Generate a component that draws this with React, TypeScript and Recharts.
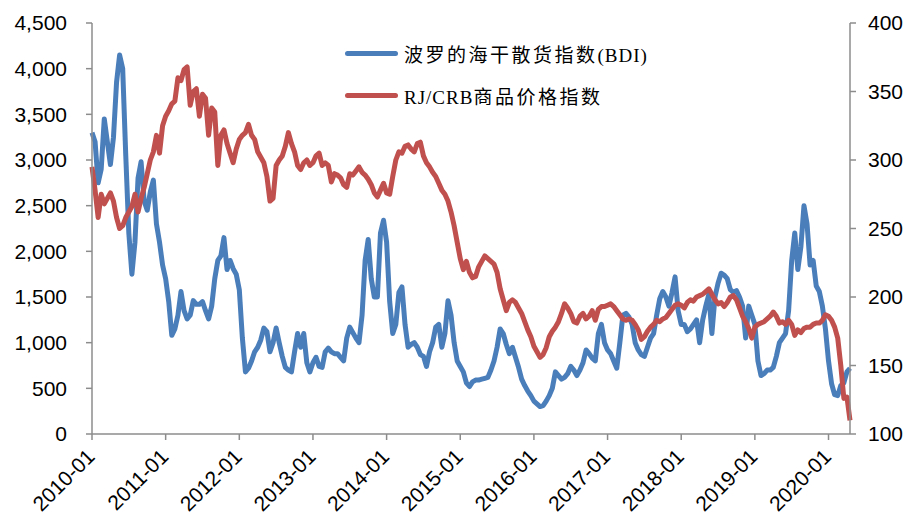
import React from 'react';
import { LineChart, Line, XAxis, YAxis, Legend } from 'recharts';

// semi-monthly sample points, Jan 2010 .. Apr 2020
const years = [2010, 2011, 2012, 2013, 2014, 2015, 2016, 2017, 2018, 2019, 2020];
const months = ['01', '02', '03', '04', '05', '06', '07', '08', '09', '10', '11', '12'];
const halfDays = ['01', '16'];
const lastMonth = '2020-04';

const dates: string[] = [];
for (const y of years) {
  for (const m of months) {
    const ym = `${y}-${m}`;
    if (ym > lastMonth) break;
    for (const d of halfDays) dates.push(`${ym}-${d}`);
  }
}

const bdi = [
  3300, 3200, 2750, 2900, 3450, 3200, 2950, 3250, 3850, 4150, 4000, 3050,
  2200, 1750, 2100, 2800, 2980, 2550, 2450, 2650, 2780, 2300, 2100, 1850,
  1700, 1450, 1080, 1150, 1300, 1560, 1350, 1260, 1300, 1460, 1420, 1420,
  1450, 1350, 1260, 1400, 1700, 1900, 1950, 2150, 1800, 1900, 1810, 1750,
  1580, 1050, 680, 720, 800, 900, 950, 1030, 1160, 1120, 900, 1000,
  1160, 1000, 850, 730, 700, 680, 900, 1100, 950, 1100, 780, 680,
  780, 840, 740, 730, 900, 940, 900, 880, 880, 840, 800, 1050,
  1170, 1110, 1050, 1000, 1300, 1900, 2130, 1700, 1500, 1500, 2200, 2340,
  2100, 1450, 1100, 1200, 1550, 1610, 1200, 950, 980, 1000, 950, 870,
  850, 740, 900, 1000, 1170, 1200, 950, 1100, 1460, 1300, 1000, 800,
  740, 680, 560, 520, 570, 590, 590, 600, 610, 620, 700, 800,
  950, 1150, 1100, 980, 880, 950, 840, 730, 600, 530, 470, 420,
  360, 330, 300, 310, 360, 420, 500, 680, 640, 600, 620, 660,
  740, 700, 640, 700, 780, 920, 880, 830, 800, 1100, 1200, 1000,
  920, 880, 800, 720, 1000, 1300, 1320, 1280, 1200, 1000, 920, 870,
  850, 950, 1050, 1100, 1300, 1480, 1560, 1500, 1400, 1550, 1720, 1350,
  1200, 1200, 1120, 1150, 1200, 1250, 1000, 1250, 1400, 1530, 1100, 1500,
  1650, 1760, 1740, 1700, 1580, 1550, 1570, 1500, 1400, 1050, 1400, 1300,
  1200, 800, 640, 660, 700, 700, 730, 850, 1000, 1050, 1100, 1350,
  1900, 2200, 1800, 2050, 2500, 2300, 1850, 1900, 1620, 1560, 1400, 1150,
  800, 550, 430, 420, 530, 560, 680, 720,
];

const crb = [
  295, 278, 258, 275, 268, 272, 276, 270, 258, 250, 252, 258,
  262, 266, 275, 262, 272, 280, 290, 300, 306, 318, 305, 325,
  332, 336, 341, 343, 360, 358, 366, 368, 340, 350, 352, 332,
  348, 345, 318, 338, 335, 296, 318, 322, 312, 305, 298, 308,
  315, 318, 320, 326, 318, 315, 306, 302, 298, 288, 270, 272,
  296, 300, 303, 310, 320, 312, 306, 296, 293, 298, 300, 296,
  298, 303, 305, 296, 298, 296, 284, 290, 289, 287, 282, 280,
  290, 289, 292, 295, 291, 289, 286, 282, 276, 273, 278, 283,
  276, 275, 288, 300, 306, 305, 310, 311, 308, 306, 312, 313,
  303, 298, 295, 291, 288, 283, 278, 275, 270, 262, 252, 240,
  228, 220, 226, 218, 214, 215, 222, 226, 230, 228, 226, 224,
  218, 206, 198, 190, 196, 198, 196, 192, 188, 182, 176, 171,
  164, 160, 156, 158, 163, 171, 175, 178, 182, 188, 195, 192,
  188, 182, 181, 186, 188, 184, 186, 190, 183, 191, 193, 193,
  194, 195, 193, 190, 187, 184, 183, 184, 183, 180, 176, 169,
  171, 175, 178, 180, 183, 182, 184, 185, 188, 191, 194, 195,
  194, 192, 196, 198, 197, 200, 201, 202, 204, 206, 202, 198,
  195, 196, 193, 196, 200, 201, 198, 192, 186, 182, 177, 170,
  178, 180, 181, 182, 184, 186, 189, 186, 181, 182, 180, 183,
  180, 172, 176, 174, 177, 178, 178, 180, 181, 181, 183, 187,
  186, 183, 178, 170, 150, 126, 127, 110,
];

const xTickLabels = ['2010-01', '2011-01', '2012-01', '2013-01', '2014-01', '2015-01', '2016-01', '2017-01', '2018-01', '2019-01', '2020-01'];
const leftTicks = [0, 500, 1000, 1500, 2000, 2500, 3000, 3500, 4000, 4500];
const rightTicks = [100, 150, 200, 250, 300, 350, 400];

const legendItems = [
  { color: '#4a7ebb', parts: [{ t: '波罗的海干散货指数', cjk: true }, { t: '(BDI)', cjk: false }] },
  { color: '#c0504d', parts: [{ t: 'RJ/CRB', cjk: false }, { t: '商品价格指数', cjk: true }] },
];

const data = dates.map((d, i) => ({ date: d, bdi: bdi[i], crb: crb[i] }));

const AXIS = '#8c8c8c';
const SANS = "'Liberation Sans', Arial, sans-serif";

const XTick = (props: any) => {
  const { x, y, payload } = props;
  const tx = x + 4;
  const ty = y + 18;
  return (
    <text x={tx} y={ty} transform={`rotate(-45 ${tx} ${ty})`} textAnchor="end" fontSize={21} fontFamily={SANS} fill="#000">
      {String(payload.value).slice(0, 7)}
    </text>
  );
};

const renderLegend = () => (
  <div style={{ fontFamily: "'Liberation Serif', 'Noto Sans CJK SC', serif", color: '#000' }}>
    {legendItems.map((item, i) => (
      <div key={i} style={{ display: 'flex', alignItems: 'center', height: 42 }}>
        <div style={{ width: 53, height: 5, borderRadius: 3, background: item.color }} />
        <div style={{ marginLeft: 6, whiteSpace: 'nowrap' }}>
          {item.parts.map((p, j) => (
            <span
              key={j}
              style={
                p.cjk
                  ? { fontFamily: "'Noto Sans CJK SC', sans-serif", fontSize: 19, letterSpacing: 2.5 }
                  : { fontSize: 19, letterSpacing: 1 }
              }
            >
              {p.t}
            </span>
          ))}
        </div>
      </div>
    ))}
  </div>
);

export default function App() {
  return (
    <div style={{ position: 'absolute', left: 0, top: 0, width: 918, height: 516, background: '#fff' }}>
      <LineChart width={918} height={516} data={data} margin={{ top: 23, right: 0, bottom: 0, left: 0 }}>
        <XAxis
          dataKey="date"
          ticks={xTickLabels.map((t) => `${t}-01`)}
          interval={0}
          height={82}
          tickSize={6}
          tickMargin={0}
          tick={<XTick />}
          axisLine={{ stroke: AXIS, strokeWidth: 1.5 }}
          tickLine={{ stroke: AXIS, strokeWidth: 1.5 }}
        />
        <YAxis
          yAxisId="left"
          orientation="left"
          width={92}
          domain={[0, 4500]}
          ticks={leftTicks}
          interval={0}
          tickSize={6}
          tickMargin={19}
          tickFormatter={(v: number) => v.toLocaleString('en-US')}
          tick={{ fontSize: 21, fill: '#000', fontFamily: SANS }}
          axisLine={{ stroke: AXIS, strokeWidth: 1.5 }}
          tickLine={{ stroke: AXIS, strokeWidth: 1.5 }}
        />
        <YAxis
          yAxisId="right"
          orientation="right"
          width={68}
          domain={[100, 400]}
          ticks={rightTicks}
          interval={0}
          tickSize={6}
          tickMargin={12}
          tick={{ fontSize: 21, fill: '#000', fontFamily: SANS }}
          axisLine={{ stroke: AXIS, strokeWidth: 1.5 }}
          tickLine={{ stroke: AXIS, strokeWidth: 1.5 }}
        />
        <Legend
          verticalAlign="middle"
          align="center"
          content={renderLegend}
          wrapperStyle={{ left: 345, top: 32, width: 330 }}
        />
        <Line
          yAxisId="left"
          type="linear"
          dataKey="bdi"
          stroke="#4a7ebb"
          strokeWidth={5}
          strokeLinejoin="round"
          dot={false}
          activeDot={false}
          isAnimationActive={false}
        />
        <Line
          yAxisId="right"
          type="linear"
          dataKey="crb"
          stroke="#c0504d"
          strokeWidth={5}
          strokeLinejoin="round"
          dot={false}
          activeDot={false}
          isAnimationActive={false}
        />
      </LineChart>
    </div>
  );
}
